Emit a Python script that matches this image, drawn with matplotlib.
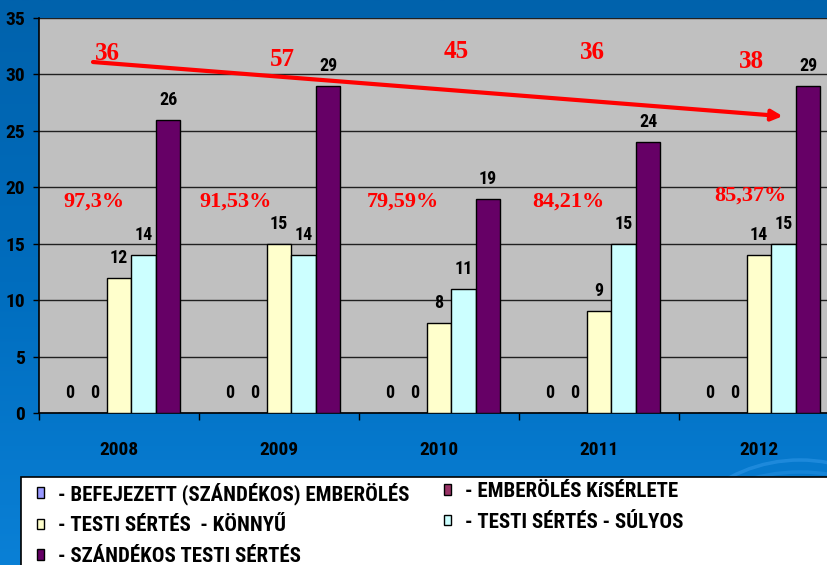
import numpy as np
import matplotlib
matplotlib.use("Agg")
import matplotlib.pyplot as plt
from matplotlib import font_manager as fm
from matplotlib.patches import Rectangle, Patch, Arc
from matplotlib.colors import LinearSegmentedColormap

# ---------------- data ----------------
years = ["2008", "2009", "2010", "2011", "2012"]
series_names = [
    "- BEFEJEZETT (SZÁNDÉKOS) EMBERÖLÉS",
    "- EMBERÖLÉS KíSÉRLETE",
    "- TESTI SÉRTÉS  - KÖNNYŰ",
    "- TESTI SÉRTÉS - SÚLYOS",
    "- SZÁNDÉKOS TESTI SÉRTÉS",
]
befejezett = [0, 0, 0, 0, 0]
kiserlet = [0, 0, 0, 0, 0]
konnyu = [12, 15, 8, 9, 14]
sulyos = [14, 14, 11, 15, 15]
szandekos = [26, 29, 19, 24, 29]
totals = ["36", "57", "45", "36", "38"]
percents = ["97,3%", "91,53%", "79,59%", "84,21%", "85,37%"]
yticks = [0, 5, 10, 15, 20, 25, 30, 35]

series = [befejezett, kiserlet, konnyu, sulyos, szandekos]
colors = ["#9999FF", "#993366", "#FFFFCC", "#CCFFFF", "#660066"]

# label placement (layout, in data units)
total_pos = [(-0.075, 31.85), (1.019, 31.3), (2.106, 32.0), (2.956, 31.9), (3.95, 31.15)]
pct_pos = [(-0.156, 18.7), (0.731, 18.7), (1.775, 18.7), (2.806, 18.7), (3.944, 19.3)]

def weight_num(wt):
    if isinstance(wt, (int, float)):
        return wt
    return {"bold": 700, "heavy": 800, "black": 900, "semibold": 600,
            "demibold": 600, "extra bold": 800}.get(str(wt).lower(), 400)

bold_fams = {f.name for f in fm.fontManager.ttflist
             if weight_num(f.weight) >= 600 and f.style == "normal"}

def pick(cands):
    for c in cands:
        if c in bold_fams:
            return c
    return "DejaVu Sans"

NARROW = pick(["Liberation Sans Narrow", "Arial Narrow", "Archivo Narrow",
               "Roboto Condensed", "Asap Condensed", "Barlow Semi Condensed",
               "Liberation Sans"])
SERIF = pick(["Liberation Serif", "Tinos", "Times New Roman", "DejaVu Serif"])
NARROW_L = [NARROW, "DejaVu Sans"]
SERIF_L = [SERIF, "DejaVu Serif"]

W, H = 827, 565
fig = plt.figure(figsize=(W / 100, H / 100), dpi=100)

# background gradient (dark at top, lighter at bottom) with faint swirl
bg = fig.add_axes([0, 0, 1, 1], zorder=-10)
cmap = LinearSegmentedColormap.from_list("bg", ["#0062AC", "#006DBE", "#0A80D6"])
grad = np.linspace(0, 1, 256).reshape(-1, 1)
bg.imshow(grad, aspect="auto", cmap=cmap, extent=[0, W, H, 0], origin="upper")
bg.set_xlim(0, W)
bg.set_ylim(H, 0)
bg.add_patch(Arc((800, 610), 300, 300, theta1=180, theta2=360, color="#2E95E6",
                 lw=2.5, alpha=0.6))
bg.add_patch(Arc((800, 622), 330, 300, theta1=180, theta2=360, color="#2E95E6",
                 lw=2.5, alpha=0.4))
bg.set_axis_off()

# main axes (plot area extends beyond right edge, as in the reference)
left, right_px, top, bottom = 39, 839, 18, 413
ax = fig.add_axes([left / W, (H - bottom) / H, (right_px - left) / W, (bottom - top) / H])
ax.set_facecolor("#C0C0C0")

n = len(series)
w = 24.5 / 160
x = np.arange(len(years))
for i, (vals, c) in enumerate(zip(series, colors)):
    pos = x + (i - (n - 1) / 2) * w
    ax.bar(pos, vals, width=w, color=c, edgecolor="black", linewidth=1.0, zorder=3,
           label=series_names[i])
    for xp, v in zip(pos, vals):
        ax.annotate(str(v), xy=(xp, v), xytext=(0, 20), textcoords="offset pixels",
                    ha="center", va="center", fontsize=13, fontweight="bold",
                    family=NARROW_L, color="black", zorder=5)

ax.set_xlim(-0.5, len(years) - 0.5)
ax.set_ylim(0, 35)
ax.set_yticks(yticks)
ax.set_yticklabels([str(t) for t in yticks], fontsize=14, fontweight="bold", family=NARROW_L)
ax.yaxis.grid(True, color="#202020", linewidth=1.0, zorder=0)
ax.set_axisbelow(True)
ax.tick_params(axis="y", length=4, width=1, pad=6, direction="out")

ax.set_xticks(x)
ax.set_xticklabels(years, fontsize=14, fontweight="bold", family=NARROW_L)
ax.set_xticks(np.arange(-0.5, len(years)), minor=True)
ax.tick_params(axis="x", which="major", length=0, pad=20)
ax.tick_params(axis="x", which="minor", length=5, width=1, direction="out")

for s in ["top", "right"]:
    ax.spines[s].set_visible(False)
for s in ["left", "bottom"]:
    ax.spines[s].set_color("black")
    ax.spines[s].set_linewidth(1.2)

# red trend arrow and labels
ax.annotate("", xy=(4.148, 26.3), xytext=(-0.1625, 31.1),
            arrowprops=dict(arrowstyle="-|>", color="#FF0000", lw=3, mutation_scale=16,
                            shrinkA=0, shrinkB=0), zorder=6)
for t, (px, py) in zip(totals, total_pos):
    ax.text(px, py, t, ha="center", va="center", fontsize=18, fontweight="bold",
            family=SERIF_L, color="#FF0000", zorder=7)
for t, (px, py) in zip(percents, pct_pos):
    ax.text(px, py, t, ha="center", va="center", fontsize=16, fontweight="bold",
            family=SERIF_L, color="#FF0000", zorder=7)

# legend box
fig.patches.append(Rectangle((21 / W, -0.01), 1.0, (H - 477) / H + 0.01,
                             transform=fig.transFigure, facecolor="white",
                             edgecolor="black", linewidth=1.2, zorder=1))
handles = [Patch(facecolor=c, edgecolor="black", linewidth=1) for c in colors]
common = dict(frameon=False, handlelength=0.35, handleheight=0.4,
              handletextpad=0.65, labelspacing=0.56, borderpad=0, borderaxespad=0,
              loc="upper left", prop={"family": NARROW_L, "weight": "bold", "size": 15})
leg1 = fig.legend([handles[0], handles[2], handles[4]],
                  [series_names[0], series_names[2], series_names[4]],
                  bbox_to_anchor=(37 / W, (H - 482) / H), **common)
leg2 = fig.legend([handles[1], handles[3]],
                  [series_names[1], series_names[3]],
                  bbox_to_anchor=(444 / W, (H - 482) / H), **common)
for lg in (leg1, leg2):
    lg.set_zorder(5)

fig.savefig("out.png", dpi=100)
